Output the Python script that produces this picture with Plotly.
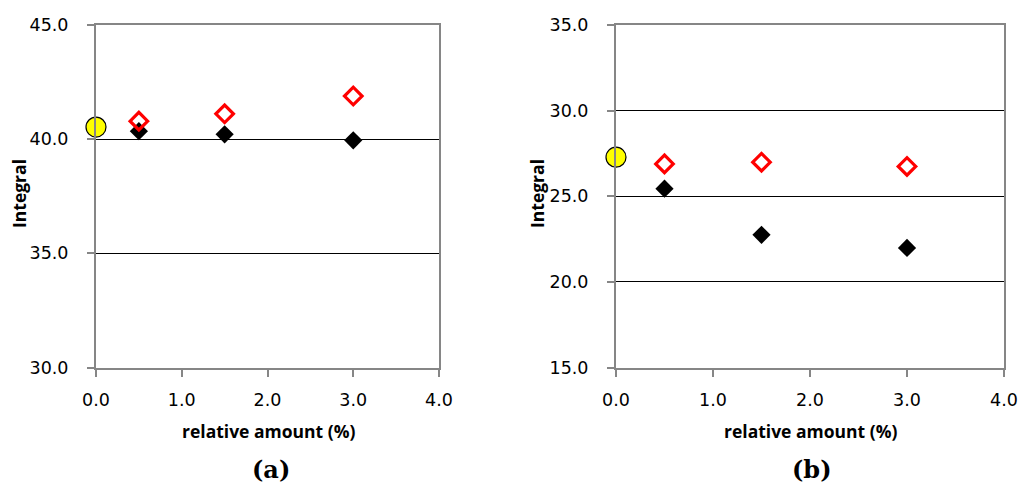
import plotly.graph_objects as go
from plotly.subplots import make_subplots

# Reference (0 %) value and sample series for panel (a) and panel (b)
x_ref = [0.0]
x_amount = [0.5, 1.5, 3.0]

a_ref = [40.53]
a_black = [40.35, 40.21, 39.95]
a_red = [40.79, 41.11, 41.89]

b_ref = [27.28]
b_black = [25.44, 22.75, 21.98]
b_red = [26.89, 26.99, 26.74]

x_ticks = [0, 1, 2, 3, 4]
a_yticks = [30, 35, 40, 45]
b_yticks = [15, 20, 25, 30, 35]

W, H = 1021, 485

fig = make_subplots(rows=1, cols=2)

def add_panel(col, ref, black, red):
    fig.add_trace(go.Scatter(
        x=x_amount, y=black, mode="markers",
        marker=dict(symbol="diamond", size=14, color="black",
                    line=dict(width=0)),
        showlegend=False, cliponaxis=False), row=1, col=col)
    fig.add_trace(go.Scatter(
        x=x_amount, y=red, mode="markers",
        marker=dict(symbol="diamond-open", size=13.5, color="#ff0000",
                    line=dict(width=3.2, color="#ff0000")),
        showlegend=False, cliponaxis=False), row=1, col=col)
    fig.add_trace(go.Scatter(
        x=x_ref, y=ref, mode="markers",
        marker=dict(symbol="circle", size=20, color="#ffff00",
                    line=dict(width=1.2, color="black")),
        showlegend=False, cliponaxis=False), row=1, col=col)

add_panel(1, a_ref, a_black, a_red)
add_panel(2, b_ref, b_black, b_red)

tick_font = dict(family="DejaVu Sans", size=17.5, color="black")
title_font = dict(family="Open Sans", size=17.5, color="black")

axis_common = dict(
    showline=True, linecolor="#868686", linewidth=2, mirror=True,
    ticks="outside", ticklen=7, tickcolor="#868686", tickwidth=1.5,
    tickfont=tick_font, tickformat=".1f", zeroline=False, automargin=False,
)

fig.update_xaxes(range=[0, 4], tickvals=x_ticks, showgrid=False,
                 ticklabelstandoff=8, **axis_common)
fig.update_yaxes(showgrid=True, gridcolor="black", gridwidth=1,
                 ticklabelstandoff=15, **axis_common)

panels = [
    dict(x0=96, x1=439, label="(a)"),
    dict(x0=616, x1=1004, label="(b)"),
]
y_top, y_bot = 25, 367.5

for i, p in enumerate(panels, start=1):
    fig.update_xaxes(domain=[p["x0"] / W, p["x1"] / W], row=1, col=i)
fig.update_yaxes(domain=[1 - y_bot / H, 1 - y_top / H])
fig.update_yaxes(range=[30, 45], tickvals=a_yticks, row=1, col=1)
fig.update_yaxes(range=[15, 35], tickvals=b_yticks, row=1, col=2)

# Axis titles and panel labels
panel_font = dict(family="DejaVu Serif", size=24, color="black")
x_title_centres = [268, 810]
y_title_x = [19, 537]
panel_label_x = [271, 812]
for i, p in enumerate(panels):
    fig.add_annotation(text="<b>relative amount (%)</b>", x=x_title_centres[i] / W,
                       y=1 - 431 / H, xref="paper", yref="paper",
                       xanchor="center", yanchor="middle",
                       showarrow=False, font=title_font)
    fig.add_annotation(text="<b>Integral</b>", x=y_title_x[i] / W,
                       y=1 - 194 / H, xref="paper", yref="paper", textangle=-90,
                       xanchor="center", yanchor="middle",
                       showarrow=False, font=title_font)
    fig.add_annotation(text="<b>" + p["label"] + "</b>", x=panel_label_x[i] / W,
                       y=1 - 469 / H, xref="paper", yref="paper",
                       xanchor="center", yanchor="middle",
                       showarrow=False, font=panel_font)

fig.update_layout(
    width=W, height=H,
    margin=dict(l=0, r=0, t=0, b=0, autoexpand=False),
    paper_bgcolor="white", plot_bgcolor="white",
)

fig.write_html("out.html")
